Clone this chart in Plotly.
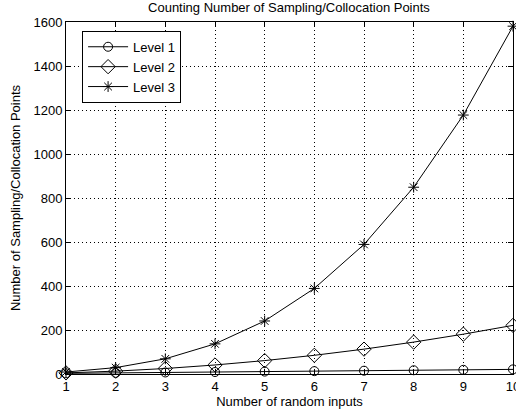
import plotly.graph_objects as go

# Number of random inputs (dimension)
n_inputs = [1, 2, 3, 4, 5, 6, 7, 8, 9, 10]

# Sampling/collocation point counts per sparse-grid level
level1 = [3, 5, 7, 9, 11, 13, 15, 17, 19, 21]
level2 = [5, 13, 25, 41, 61, 85, 113, 145, 181, 221]
level3 = [9, 29, 69, 137, 241, 389, 589, 849, 1177, 1581]

series = [
    ("Level 1", level1, "circle-open", 9),
    ("Level 2", level2, "diamond-open", 11),
    ("Level 3", level3, "asterisk-open", 9),
]

fig = go.Figure()
for name, vals, sym, size in series:
    fig.add_trace(go.Scatter(
        x=n_inputs, y=vals, name=name, mode="lines+markers",
        line=dict(color="black", width=1),
        marker=dict(symbol=sym, size=size, color="black",
                    line=dict(color="black", width=1)),
        cliponaxis=False,
    ))

FS = 13

axis_common = dict(
    showline=True, linecolor="black", linewidth=1, mirror="ticks",
    ticks="inside", ticklen=5, tickcolor="black",
    showgrid=True, gridcolor="black", gridwidth=1, griddash="1px,3px",
    zeroline=False, tickfont=dict(size=FS, color="black"),
    title_font=dict(size=FS, color="black"),
    ticklabeloverflow="allow", automargin=False,
)

fig.update_layout(
    width=516, height=418,
    margin=dict(l=66, r=3, t=22, b=44),
    paper_bgcolor="white", plot_bgcolor="white",
    font=dict(family="Liberation Sans, Arial, sans-serif", color="black"),
    title=dict(text="Counting Number of Sampling/Collocation Points",
               x=0.56, xanchor="center", y=0.992, yanchor="top",
               font=dict(size=FS, color="black")),
    xaxis=dict(range=[1, 10], dtick=1,
               title=dict(text="Number of random inputs", standoff=3),
               **axis_common),
    yaxis=dict(range=[0, 1600], dtick=200,
               title=dict(text="Number of Sampling/Collocation Points", standoff=9),
               **axis_common),
    legend=dict(x=0.036, y=0.975, xanchor="left", yanchor="top",
                bgcolor="white", bordercolor="black", borderwidth=1,
                font=dict(size=FS, color="black"), itemwidth=40,
                tracegroupgap=0),
    showlegend=True,
)

fig.write_html("out.html")
